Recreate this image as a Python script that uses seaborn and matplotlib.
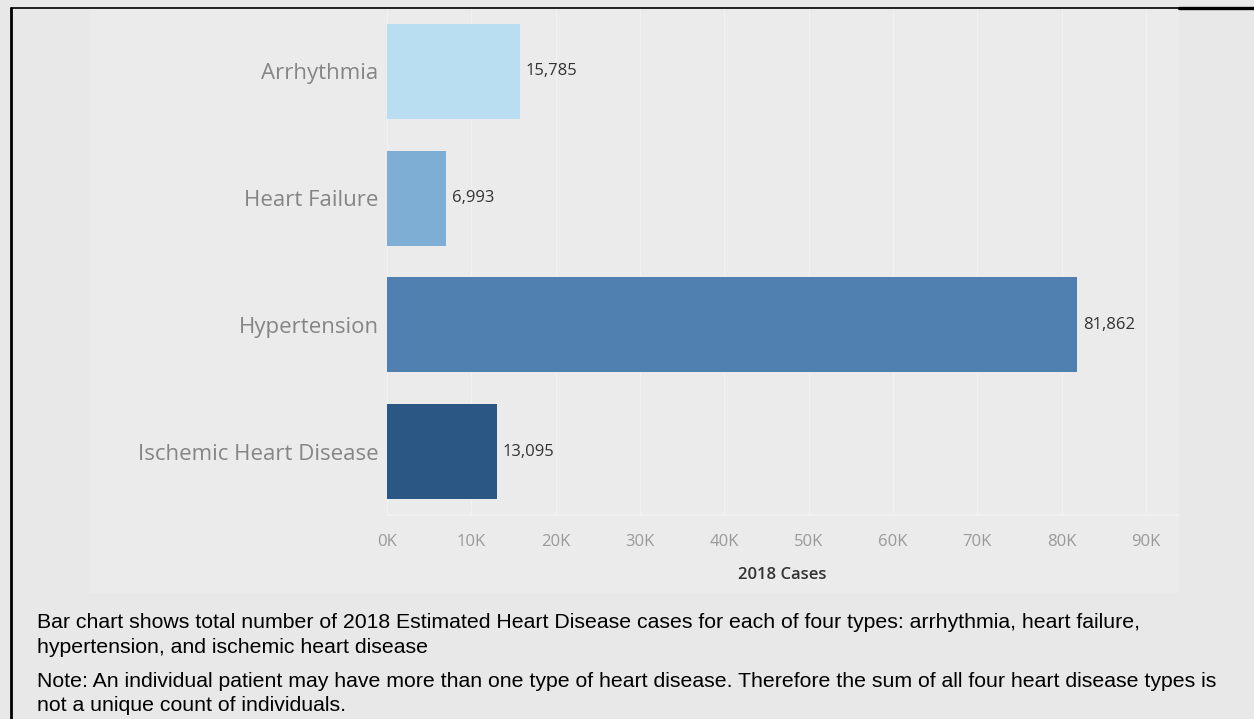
import seaborn as sns
import matplotlib.pyplot as plt
import matplotlib.ticker as mticker
from matplotlib.lines import Line2D
from matplotlib.patches import Rectangle

# Data
categories = ["Arrhythmia", "Heart Failure", "Hypertension", "Ischemic Heart Disease"]
cases_2018 = [15785, 6993, 81862, 13095]
bar_colors = ["#b9ddf1", "#7eaed4", "#4f80b0", "#2a5783"]
x_ticks = [0, 10000, 20000, 30000, 40000, 50000, 60000, 70000, 80000, 90000]

caption_1 = ("Bar chart shows total number of 2018 Estimated Heart Disease cases for each of four types: arrhythmia, heart failure,\n"
             "hypertension, and ischemic heart disease")
caption_2 = ("Note: An individual patient may have more than one type of heart disease. Therefore the sum of all four heart disease types is\n"
             "not a unique count of individuals.")

sns.set_style("white")
plt.rcParams["font.family"] = ["Open Sans", "DejaVu Sans"]

fig = plt.figure(figsize=(12.54, 7.19), dpi=100, facecolor="#e8e8e8")

# lighter panel behind the chart
fig.add_artist(Rectangle((0.0718, 0.1752), 0.8684, 0.8136, transform=fig.transFigure,
                         facecolor="#ebebeb", edgecolor="none", zorder=0))

ax = fig.add_axes([0.3086, 0.2837, 0.6308, 0.7052])
ax.set_facecolor("none")

sns.barplot(x=cases_2018, y=categories, hue=categories, palette=bar_colors,
            legend=False, orient="h", width=0.75, saturation=1, linewidth=0,
            ax=ax, zorder=3)

for c in ax.containers:
    for t in ax.bar_label(c, labels=[f"{v:,.0f}" for v in c.datavalues], padding=4,
                          fontsize=12, color="#333333", zorder=4):
        t.set_y(t.get_position()[1] + 0.02)

ax.set_xlim(0, 93800)
ax.set_ylim(3.5, -0.5)
ax.set_xticks(x_ticks)
ax.xaxis.set_major_formatter(mticker.FuncFormatter(lambda v, p: f"{int(v / 1000)}K"))
ax.grid(axis="x", color="#f2f2f2", linewidth=0.9, zorder=1)
ax.tick_params(axis="x", colors="#f2f2f2", labelcolor="#999999", labelsize=12,
               length=5, width=0.9, pad=9)
ax.tick_params(axis="y", length=0, labelcolor="#858585", labelsize=16, pad=6)
for lbl in ax.get_yticklabels():
    lbl.set_va("center_baseline")
for side in ["top", "right", "left"]:
    ax.spines[side].set_visible(False)
ax.spines["bottom"].set_color("#f2f2f2")
ax.spines["bottom"].set_linewidth(1.2)

ax.set_xlabel("2018 Cases", fontsize=12, color="#333333", fontweight="semibold", labelpad=12)
ax.set_ylabel("")

# caption text
fig.text(0.0295, 0.147, caption_1, fontsize=15.3, family="Liberation Sans", color="black",
         va="top", linespacing=1.36)
fig.text(0.0295, 0.066, caption_2, fontsize=15.3, family="Liberation Sans", color="black",
         va="top", linespacing=1.36)

# frame lines
fig.add_artist(Line2D([0.0088, 0.94], [0.989, 0.989], color="black", linewidth=1.2))
fig.add_artist(Line2D([0.94, 1.0], [0.989, 0.989], color="black", linewidth=2.4))
fig.add_artist(Line2D([0.0088, 0.0088], [0.0, 0.989], color="black", linewidth=2))

fig.savefig("out.png", dpi=100, facecolor=fig.get_facecolor())
